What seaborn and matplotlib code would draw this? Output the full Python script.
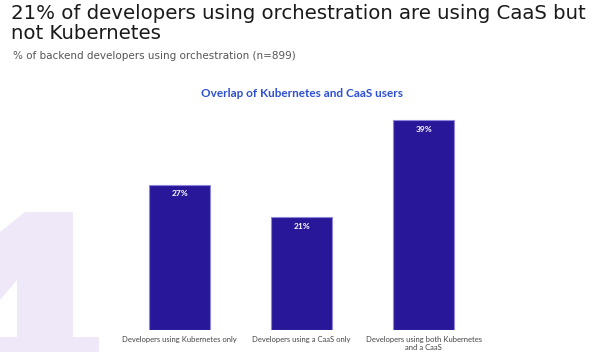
import matplotlib
matplotlib.use("Agg")
import matplotlib.pyplot as plt
from matplotlib.patches import Polygon
import seaborn as sns
import pandas as pd

sns.set_theme(style="white")
plt.rcParams['font.family'] = ['Lato', 'DejaVu Sans']

# data
categories = ["Developers using Kubernetes only",
              "Developers using a CaaS only",
              "Developers using both Kubernetes\nand a CaaS"]
values = [27, 21, 39]
labels = ["27%", "21%", "39%"]

df = pd.DataFrame({"group": categories, "share": values})

W, H = 602, 352
fig = plt.figure(figsize=(W / 100, H / 100), dpi=100)

# decorative background numeral (pixel outline, top-left origin)
deco = [(0, 232), (25, 212), (73, 212), (73, 337), (99, 337), (99, 352),
        (0, 352), (0, 337), (17, 337), (17, 280), (0, 300)]
fig.patches.append(Polygon([(x / W, 1 - y / H) for x, y in deco], closed=True,
                           transform=fig.transFigure, facecolor="#EEE8F9",
                           edgecolor="none", zorder=0))

fig.text(0.018, 0.99, "21% of developers using orchestration are using CaaS but\nnot Kubernetes",
         fontsize=14.2, color="#1a1a1a", ha="left", va="top", linespacing=1.08,
         family="DejaVu Sans")
fig.text(0.022, 0.855, "% of backend developers using orchestration (n=899)",
         fontsize=7.5, color="#555555", ha="left", va="top", family="DejaVu Sans")

ax = fig.add_axes([0.197, 0.0625, 0.608, 0.688])
ax.patch.set_alpha(0)
sns.barplot(data=df, x="group", y="share", color="#29179A", width=0.5,
            edgecolor="#8F86DA", linewidth=0.8, saturation=1, ax=ax)
ax.set_xlim(-0.5, 2.5)
ax.set_ylim(0, 45)

for i, (v, lab) in enumerate(zip(values, labels)):
    ax.text(i, v - 1.7, lab, ha="center", va="center", color="white",
            fontsize=6, fontweight="bold")

ax.set_xlabel("")
ax.set_ylabel("")
ax.set_yticks([])
ax.tick_params(axis="x", length=0, pad=4, labelsize=5.5, labelcolor="#444444")
for s in ax.spines.values():
    s.set_visible(False)

fig.text(0.501, 0.733, "Overlap of Kubernetes and CaaS users", fontsize=8.5,
         fontweight="bold", color="#2D4FD3", ha="center", va="center")

fig.savefig("out.png", dpi=100)
